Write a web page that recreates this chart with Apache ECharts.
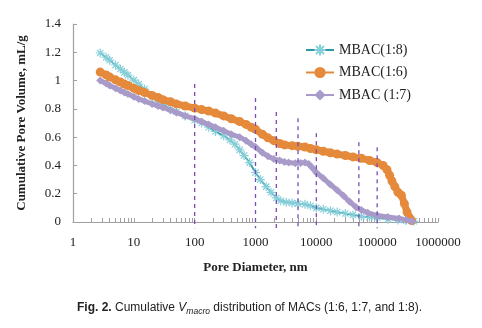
<!DOCTYPE html>
<html><head><meta charset="utf-8">
<script src="https://cdn.jsdelivr.net/npm/echarts@6/dist/echarts.min.js"></script>
<style>html,body{margin:0;padding:0;background:#fff}#c{width:482px;height:328px}</style>
</head><body><div id="c"></div>
<script>
// MBAC(1:8)
const diam18 = [2.8,3.5,4,5,6,7,8,10,12,15,20,25,30,40,50,70,100,130,170,220,300,380,460,550,650,800,1000,1200,1500,1800,2200,2600,3200,4000,5000,6500,8000,10000,13000,17000,22000,30000,40000,55000,75000,100000,150000,220000,300000,400000];
const vol18  = [1.195,1.165,1.144,1.11,1.082,1.058,1.038,1.003,0.975,0.94,0.89,0.855,0.83,0.80,0.78,0.75,0.72,0.70,0.67,0.64,0.61,0.58,0.55,0.51,0.47,0.42,0.35,0.30,0.25,0.21,0.17,0.15,0.14,0.135,0.13,0.125,0.115,0.10,0.09,0.08,0.07,0.06,0.05,0.04,0.035,0.03,0.02,0.015,0.01,0.005];
// MBAC(1:6)
const diam16 = [2.8,3.5,4,5,6,7,8,10,12,15,20,25,30,40,50,70,100,130,170,220,300,400,550,700,850,1000,1300,1600,2000,2500,3000,4000,5000,6500,8000,10000,13000,17000,22000,30000,40000,55000,75000,100000,125000,145000,160000,175000,195000,220000,250000,280000,310000,340000,370000];
const vol16  = [1.06,1.04,1.025,1.005,0.99,0.975,0.965,0.945,0.93,0.915,0.895,0.88,0.865,0.85,0.835,0.82,0.805,0.795,0.785,0.77,0.75,0.73,0.71,0.69,0.67,0.655,0.62,0.595,0.575,0.555,0.545,0.54,0.535,0.53,0.52,0.51,0.50,0.49,0.48,0.47,0.46,0.45,0.435,0.42,0.40,0.37,0.33,0.29,0.25,0.21,0.19,0.13,0.07,0.03,0.01];
// MBAC (1:7)
const diam17 = [2.8,3.5,4,5,6,7,8,10,12,15,20,25,30,40,50,70,100,130,170,220,300,400,550,700,850,1000,1300,1600,2000,2500,3000,3500,4500,5500,6500,7500,8500,10000,13000,17000,22000,28000,35000,45000,55000,70000,100000,150000,230000,300000,380000];
const vol17  = [1.00,0.98,0.965,0.945,0.93,0.915,0.905,0.885,0.87,0.855,0.835,0.82,0.81,0.79,0.775,0.75,0.73,0.71,0.69,0.67,0.645,0.62,0.60,0.575,0.55,0.53,0.49,0.465,0.445,0.435,0.425,0.42,0.415,0.418,0.42,0.41,0.385,0.35,0.31,0.265,0.225,0.185,0.145,0.105,0.085,0.065,0.046,0.035,0.025,0.015,0.005];
// vertical dashed guide lines
const guideX   = [100,1000,2200,5000,10000,50000,100000];
const guideTop = [0.975,0.876,0.777,0.734,0.628,0.564,0.528];
const guideBottom = -0.045;
// axis ticks
const xTickValues = [1,2,3,4,5,6,7,8,9,10,20,30,40,50,60,70,80,90,100,200,300,400,500,600,700,800,900,1000,2000,3000,4000,5000,6000,7000,8000,9000,10000,20000,30000,40000,50000,60000,70000,80000,90000,100000,200000,300000,400000,500000,600000,700000,800000,900000,1000000];
const xTickLabels = [1,10,100,1000,10000,100000,1000000];
const yTickLabels = [0,0.2,0.4,0.6,0.8,1,1.2,1.4];

const names = ['MBAC(1:8)','MBAC(1:6)','MBAC (1:7)'];
const zip = (a,b) => a.map((x,i)=>[x,b[i]]);
const serif = 'Liberation Serif';
const axisGray = '#a0a0a0';

const chart = echarts.init(document.getElementById('c'), null, {renderer:'canvas'});
chart.setOption({
  animation:false,
  backgroundColor:'#fff',
  title:{
    left:72, top:295,
    text:'{b|Fig. 2.} Cumulative {i|V}{s|macro} distribution of MACs (1:6, 1:7, and 1:8).',
    textStyle:{fontFamily:'Liberation Sans', fontSize:12, color:'#222', fontWeight:'normal',
      rich:{
        b:{fontFamily:'Liberation Sans', fontSize:12, fontWeight:'bold', color:'#222', lineHeight:16},
        i:{fontFamily:'Liberation Sans', fontSize:12, fontStyle:'italic', color:'#222', lineHeight:16},
        s:{fontFamily:'Liberation Sans', fontSize:8.5, fontStyle:'italic', color:'#222', lineHeight:9, verticalAlign:'bottom'}
      }}
  },
  legend:{
    data:names, orient:'vertical', left:300, top:38,
    itemWidth:28, itemHeight:14, itemGap:8.5,
    textStyle:{fontFamily:serif, fontSize:14, color:'#222'}
  },
  grid:{left:73, right:44, top:24, bottom:106, containLabel:false},
  xAxis:{
    type:'log', logBase:10, min:1, max:1000000,
    name:'Pore Diameter, nm', nameLocation:'middle', nameGap:39,
    nameTextStyle:{fontFamily:serif, fontSize:13, fontWeight:'bold', color:'#222'},
    axisLine:{show:true, lineStyle:{color:axisGray, width:1.2}},
    axisTick:{show:true, inside:true, length:4, customValues:xTickValues, lineStyle:{color:axisGray}},
    axisLabel:{customValues:xTickLabels, margin:14, fontFamily:serif, fontSize:13, color:'#222',
      formatter:v=>String(Math.round(v))},
    splitLine:{show:false}, minorTick:{show:false}
  },
  yAxis:{
    type:'value', min:0, max:1.4, interval:0.2,
    name:'Cumulative Pore Volume, mL/g', nameLocation:'middle', nameGap:45,
    nameTextStyle:{fontFamily:serif, fontSize:13, fontWeight:'bold', color:'#222'},
    axisLine:{show:true, lineStyle:{color:axisGray, width:1.2}},
    axisTick:{show:true, inside:true, length:4, lineStyle:{color:axisGray}},
    axisLabel:{margin:12, fontFamily:serif, fontSize:13, color:'#222',
      formatter:v=>{ const t=v.toFixed(1); return t.endsWith('.0')?t.slice(0,-2):t; }},
    splitLine:{show:false}
  },
  series:[
    {name:names[0], type:'line', data:zip(diam18,vol18), z:2,
     symbol:'path://M5 0L5 10M0 5L10 5M1.5 1.5L8.5 8.5M1.5 8.5L8.5 1.5', symbolSize:9, showAllSymbol:true,
     itemStyle:{color:'rgba(0,0,0,0)', borderColor:'#86cfd9', borderWidth:1.2},
     lineStyle:{color:'#2f98a4', width:1.8}},
    {name:names[1], type:'line', data:zip(diam16,vol16), z:3,
     symbol:'circle', symbolSize:9, showAllSymbol:true,
     itemStyle:{color:'#e5893b'}, lineStyle:{color:'#e5893b', width:7}},
    {name:names[2], type:'line', data:zip(diam17,vol17), z:4,
     symbol:'diamond', symbolSize:8, showAllSymbol:true,
     itemStyle:{color:'#a99bc9'}, lineStyle:{color:'#a99bc9', width:5}},
    {name:'guides', type:'custom', z:10, silent:true, clip:false,
     data:guideX.map((x,i)=>[x,guideTop[i],guideBottom]),
     encode:{x:0, y:[1,2]},
     renderItem:(params, api)=>{
       const p1 = api.coord([api.value(0), api.value(1)]);
       const p2 = api.coord([api.value(0), api.value(2)]);
       return {type:'line', shape:{x1:p1[0],y1:p1[1],x2:p2[0],y2:p2[1]},
         style:{stroke:'#7a4db5', lineWidth:1.3, lineDash:[4,4]}};
     }}
  ]
});
</script></body></html>
